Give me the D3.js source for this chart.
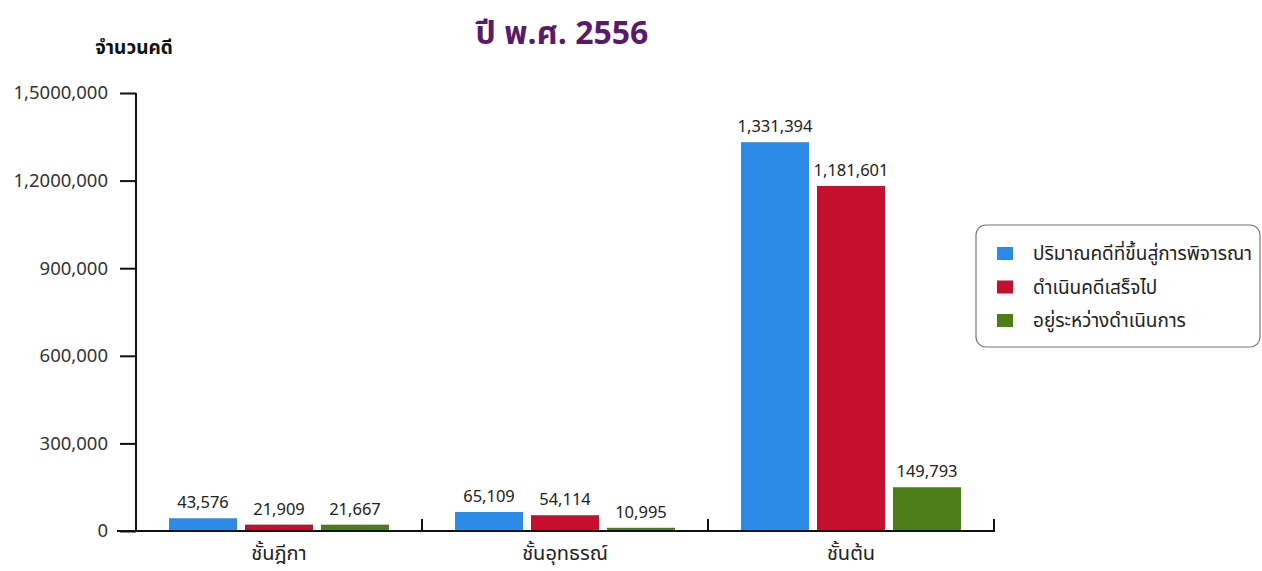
<!DOCTYPE html>
<html><head><meta charset="utf-8">
<script src="https://cdn.jsdelivr.net/npm/d3@7"></script>
<style>
body{margin:0;background:#fff;}
text{font-family:Tahoma,"Noto Sans Thai","Loma","Garuda","Noto Sans",sans-serif;}
</style></head>
<body><svg id="c" width="1262" height="571"></svg>
<script>
const categories = ["ชั้นฎีกา","ชั้นอุทธรณ์","ชั้นต้น"];
const seriesNames = ["ปริมาณคดีที่ขึ้นสู่การพิจารณา","ดำเนินคดีเสร็จไป","อยู่ระหว่างดำเนินการ"];
const filed = [43576, 65109, 1331394];
const done = [21909, 54114, 1181601];
const pending = [21667, 10995, 149793];
const colors = ["#2b8be6","#c50f2e","#4d7d17"];
const tickValues = [0,300000,600000,900000,1200000,1500000];
const tickLabels = ["0","300,000","600,000","900,000","1,2000,000","1,5000,000"];
const title = "ปี พ.ศ. 2556";
const yTitle = "จำนวนคดี";

const series = [filed, done, pending];
const svg = d3.select("#c");
const y = d3.scaleLinear().domain([0,1500000]).range([531,93]);
const x0 = d3.scaleBand().domain(categories).range([136,994]).paddingInner(0).paddingOuter(0);
const x1 = d3.scaleBand().domain([0,1,2]).range([33, x0.bandwidth()-33]).paddingInner(0.105).paddingOuter(0);

// title
svg.append("text").attr("x",562).attr("y",44).attr("text-anchor","middle")
  .attr("font-size",32).attr("font-weight","bold").attr("fill","#5a1a6b").text(title);
svg.append("text").attr("x",134).attr("y",54).attr("text-anchor","middle")
  .attr("font-size",19).attr("font-weight","bold").attr("fill","#111").text(yTitle);

// y axis
const yAxis = d3.axisLeft(y).tickValues(tickValues).tickSize(16).tickPadding(12)
  .tickFormat((d,i)=>tickLabels[i]);
const gy = svg.append("g").attr("transform","translate(136,0)").call(yAxis);
gy.select(".domain").attr("stroke","#111").attr("stroke-width",2).attr("d","M0,93V531");
gy.selectAll(".tick line").attr("stroke","#111").attr("stroke-width",2);
gy.selectAll(".tick text").attr("font-size",18.5).attr("fill","#333").attr("font-family",'Tahoma,"Noto Sans",sans-serif');

// bars
const groups = svg.append("g").selectAll("g").data(categories).join("g")
  .attr("transform",d=>`translate(${x0(d)},0)`);
groups.each(function(cat,ci){
  const g = d3.select(this);
  series.forEach((s,si)=>{
    g.append("rect").attr("x",x1(si)).attr("width",x1.bandwidth())
      .attr("y",y(s[ci])).attr("height",y(0)-y(s[ci])).attr("fill",colors[si]);
    g.append("text").attr("x",x1(si)+x1.bandwidth()/2).attr("y",y(s[ci])-10)
      .attr("text-anchor","middle").attr("font-size",16.5).attr("fill","#222")
      .text(d3.format(",")(s[ci]));
  });
});

// x axis
const xAxis = d3.axisBottom(x0).tickSize(0).tickPadding(12);
const gx = svg.append("g").attr("transform","translate(0,531)").call(xAxis);
gx.select(".domain").attr("stroke","#111").attr("stroke-width",2).attr("d","M117,0H995");
gx.selectAll(".tick text").attr("font-size",20).attr("fill","#222").attr("dy","0.85em");
// separators
svg.append("g").selectAll("line").data(categories).join("line")
  .attr("x1",d=>x0(d)+x0.bandwidth()).attr("x2",d=>x0(d)+x0.bandwidth())
  .attr("y1",519).attr("y2",531).attr("stroke","#111").attr("stroke-width",2);

// legend
const lg = svg.append("g");
lg.append("rect").attr("x",976).attr("y",225).attr("width",284).attr("height",122)
  .attr("rx",10).attr("fill","#fff").attr("stroke","#777").attr("stroke-width",1.2);
seriesNames.forEach((n,i)=>{
  lg.append("rect").attr("x",997).attr("y",247+i*33.5).attr("width",16).attr("height",13).attr("fill",colors[i]);
  lg.append("text").attr("x",1033).attr("y",260+i*33.5).attr("font-size",19).attr("fill","#222").text(n);
});
</script></body></html>
